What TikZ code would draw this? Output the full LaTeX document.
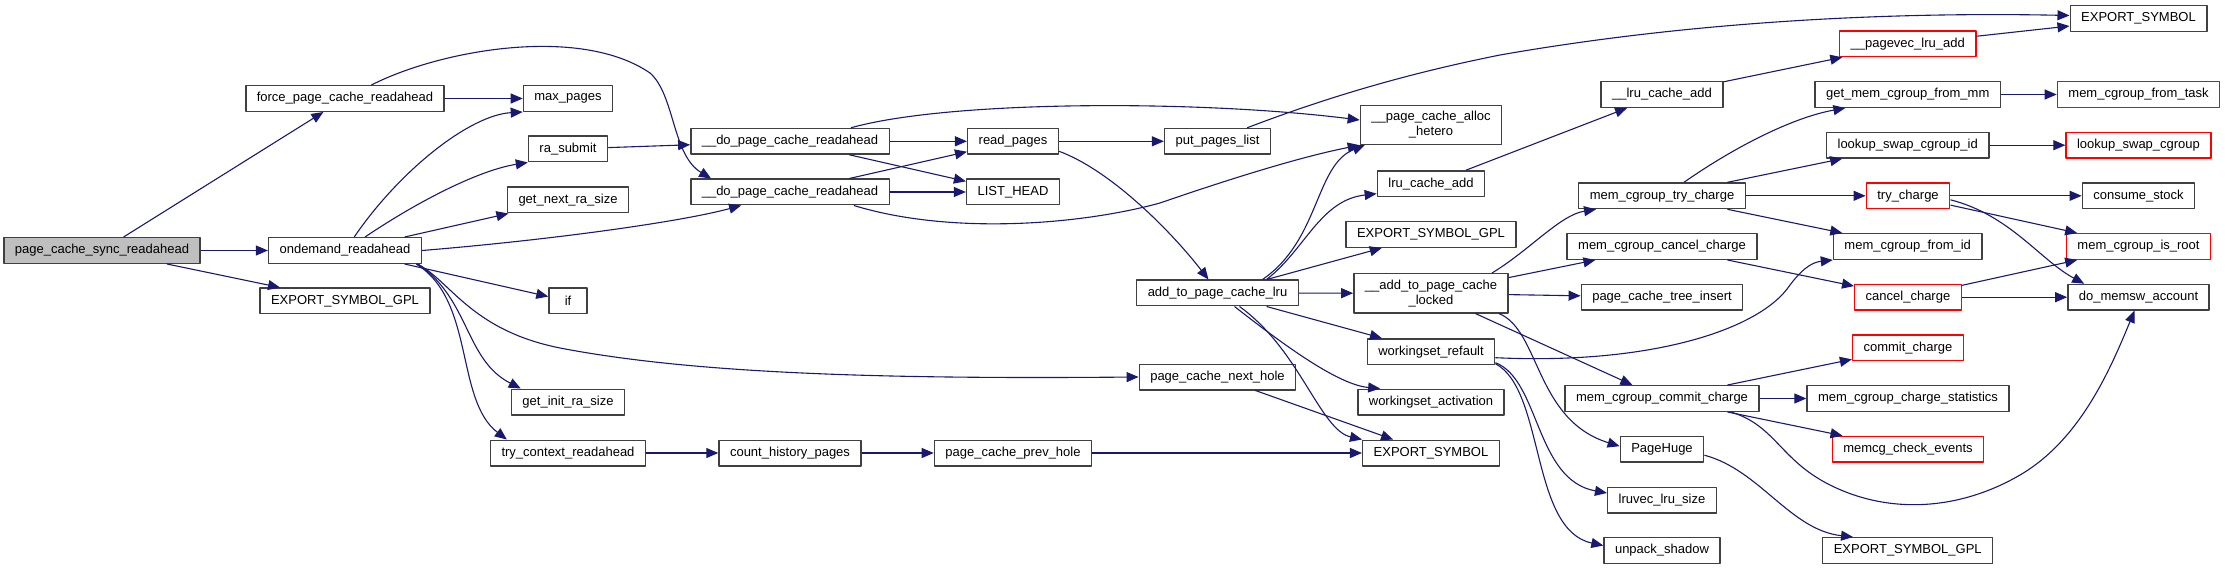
\documentclass[tikz,border=0pt]{standalone}
\usepackage{fontspec}
\setmainfont{Liberation Sans}
\usetikzlibrary{arrows.meta}
\definecolor{edgeblue}{HTML}{191970}
\definecolor{boxgray}{HTML}{404040}
\definecolor{rootfill}{HTML}{BFBFBF}

\begin{document}
\begin{tikzpicture}[x=1pt, y=-1pt, font=\fontsize{13}{15}\selectfont, line join=round,
	fn/.style={draw=boxgray, line width=1.4pt, fill=white, inner xsep=11pt, inner ysep=6pt, minimum height=25.6pt, align=center},
	fnred/.style={fn, draw=red},
	root/.style={fn, fill=rootfill},
	call/.style={draw=edgeblue, line width=1.1pt, -{Triangle[length=12pt,width=10pt]}}]
	\useasboundingbox (0,0) rectangle (2225,569);
	\node[root] (sync) at (102,250.5) {page\_cache\_sync\_readahead};
	\node[fn, minimum width=38pt] (iff) at (568,301) {if};
	\foreach \nm/\x/\y/\lbl in {force/345/98.5/force\_page\_cache\_readahead, ondemand/345/250.5/ondemand\_readahead,
		gpla/345/301/EXPORT\_SYMBOL\_GPL, maxpages/568/98.5/max\_pages, rasubmit/568/149/ra\_submit,
		nextra/568/200/get\_next\_ra\_size, initra/568/402/get\_init\_ra\_size, trycontext/568/453/try\_context\_readahead,
		dopcra/790/141.3/\_\_do\_page\_cache\_readahead, dopcrb/790/192/\_\_do\_page\_cache\_readahead,
		counthist/790/453/count\_history\_pages, readpages/1013/141.3/read\_pages, listhead/1013/192/LIST\_HEAD,
		prevhole/1013/453/page\_cache\_prev\_hole, putpages/1217.5/141.3/put\_pages\_list,
		addlru/1217.5/293/add\_to\_page\_cache\_lru, nexthole/1217.5/377/page\_cache\_next\_hole,
		allochetero/1431/125/{\_\_page\_cache\_alloc\\\_hetero}, lrucacheadd/1431/183.7/lru\_cache\_add,
		gplb/1431/234.5/EXPORT\_SYMBOL\_GPL, addlocked/1431/293.3/{\_\_add\_to\_page\_cache\\\_locked},
		refault/1431/351.7/workingset\_refault, activation/1431/402/workingset\_activation, symb/1431/453/EXPORT\_SYMBOL,
		lruadd/1662/94.5/\_\_lru\_cache\_add, trycharge/1662/195.8/mem\_cgroup\_try\_charge,
		cancelmcg/1662/246.5/mem\_cgroup\_cancel\_charge, treeinsert/1662/297.2/page\_cache\_tree\_insert,
		commitmcg/1662/398.5/mem\_cgroup\_commit\_charge, pagehuge/1662/449.2/PageHuge,
		lrusize/1662/500/lruvec\_lru\_size, unpackshadow/1662/550.5/unpack\_shadow,
		frommm/1907.7/94.5/get\_mem\_cgroup\_from\_mm, swapid/1907.7/145.2/lookup\_swap\_cgroup\_id,
		fromid/1907.7/246.5/mem\_cgroup\_from\_id, chargestats/1908/398.5/mem\_cgroup\_charge\_statistics,
		gplc/1907.7/550.5/EXPORT\_SYMBOL\_GPL, symbtop/2138.5/18.5/EXPORT\_SYMBOL,
		consume/2138.5/195.8/consume\_stock, memsw/2138.5/297.2/do\_memsw\_account}
		\node[fn] (\nm) at (\x,\y) {\lbl};
	\foreach \nm/\x/\y/\lbl in {pagevec/1907.7/43.8/\_\_pagevec\_lru\_add, trychg/1908/195.8/try\_charge,
		cancelchg/1908/297.2/cancel\_charge, commitchg/1908/347.8/commit\_charge,
		checkevents/1908/449.2/memcg\_check\_events, fromtask/2138.5/94.5/mem\_cgroup\_from\_task,
		swapcg/2138.5/145.2/lookup\_swap\_cgroup, isroot/2138.5/246.5/mem\_cgroup\_is\_root}
		\node[fnred] (\nm) at (\x,\y) {\lbl};
	\foreach \a/\b in {sync/force, sync/ondemand, sync/gpla, force/maxpages, ondemand/nextra, ondemand/iff,
		rasubmit/dopcra, dopcra/readpages, dopcra/listhead, dopcrb/readpages, dopcrb/listhead, readpages/putpages,
		trycontext/counthist, counthist/prevhole, prevhole/symb, nexthole/symb, addlru/gplb, addlru/addlocked,
		addlru/refault, lrucacheadd/lruadd, lruadd/pagevec, pagevec/symbtop, addlocked/cancelmcg,
		addlocked/treeinsert, addlocked/commitmcg, trycharge/swapid, trycharge/trychg, trycharge/fromid,
		frommm/fromtask, swapid/swapcg, trychg/consume, trychg/isroot, cancelmcg/cancelchg, cancelchg/isroot,
		cancelchg/memsw, commitmcg/commitchg, commitmcg/chargestats, commitmcg/checkevents}
		\draw[call] (\a) -- (\b);
	\draw[call] (force) .. controls (440,50) and (580,25) .. (650,73) .. controls (675,95) and (672,155) .. ([xshift=21pt]dopcrb.north west);
	\draw[call] (ondemand) .. controls (400,170) and (470,115) .. (maxpages.south west);
	\draw[call] (ondemand) .. controls (420,200) and (480,170) .. (rasubmit.south west);
	\draw[call] (ondemand.east) .. controls (550,240) and (680,222) .. ([xshift=51pt]dopcrb.south west);
	\draw[call] ([xshift=-5pt]ondemand.south east) .. controls (450,280) and (470,330) .. (560,348) .. controls (700,375) and (900,379) .. (nexthole.west);
	\draw[call] ([xshift=-4pt]ondemand.south east) .. controls (470,300) and (465,360) .. ([xshift=10pt]initra.north west);
	\draw[call] ([xshift=-6pt]ondemand.south east) .. controls (475,300) and (455,400) .. ([xshift=17pt]trycontext.north west);
	\draw[call] ([xshift=-39pt]dopcra.north east) .. controls (950,100) and (1200,100) .. ([yshift=5pt]allochetero.west);
	\draw[call] ([xshift=-36pt]dopcrb.south east) .. controls (950,235) and (1080,225) .. (1160,203) .. controls (1250,172) and (1310,155) .. (allochetero.south west);
	\draw[call] ([yshift=-10pt]readpages.east) .. controls (1110,170) and (1170,230) .. ([xshift=-9pt]addlru.north);
	\draw[call] ([xshift=-24pt]putpages.north east) .. controls (1320,100) and (1400,75) .. (1500,55) .. controls (1700,20) and (1900,12) .. ([yshift=3pt]symbtop.west);
	\draw[call] ([xshift=45pt]addlru.north) .. controls (1320,240) and (1315,165) .. ([xshift=5pt]allochetero.south west);
	\draw[call] ([xshift=49pt]addlru.north) .. controls (1305,250) and (1320,200) .. ([yshift=-10pt]lrucacheadd.west);
	\draw[call] ([xshift=17pt]addlru.south) .. controls (1290,350) and (1340,385) .. ([xshift=23pt]activation.north west);
	\draw[call] ([xshift=22pt]addlru.south) .. controls (1300,350) and (1320,430) .. (symb.north west);
	\draw[call] ([xshift=-17pt]addlocked.north east) .. controls (1530,250) and (1560,215) .. ([xshift=18pt]trycharge.south west);
	\draw[call] ([xshift=-10pt]addlocked.south east) .. controls (1540,330) and (1535,420) .. ([yshift=3pt]pagehuge.west);
	\draw[call] ([yshift=-6pt]refault.east) .. controls (1650,365) and (1760,330) .. (1790,285) .. controls (1805,265) and (1815,262) .. (fromid.south west);
	\draw[call] ([yshift=-11pt]refault.east) .. controls (1540,380) and (1535,480) .. ([yshift=7pt]lrusize.west);
	\draw[call] ([yshift=-12pt]refault.east) .. controls (1545,390) and (1530,530) .. ([yshift=5pt]unpackshadow.west);
	\draw[call] ([xshift=22pt]trycharge.north) .. controls (1730,150) and (1790,118) .. ([xshift=31pt]frommm.south west);
	\draw[call] ([yshift=-4pt]trychg.east) .. controls (2010,215) and (2040,260) .. ([xshift=17pt]memsw.north west);
	\draw[call] ([xshift=-29pt]commitmcg.south east) .. controls (1775,425) and (1780,460) .. (1830,485) .. controls (1890,515) and (1960,510) .. (2020,475) .. controls (2080,440) and (2110,370) .. ([xshift=-4pt]memsw.south);
	\draw[call] ([yshift=-6pt]pagehuge.east) .. controls (1760,470) and (1790,530) .. ([xshift=31pt]gplc.north west);
\end{tikzpicture}
\end{document}
